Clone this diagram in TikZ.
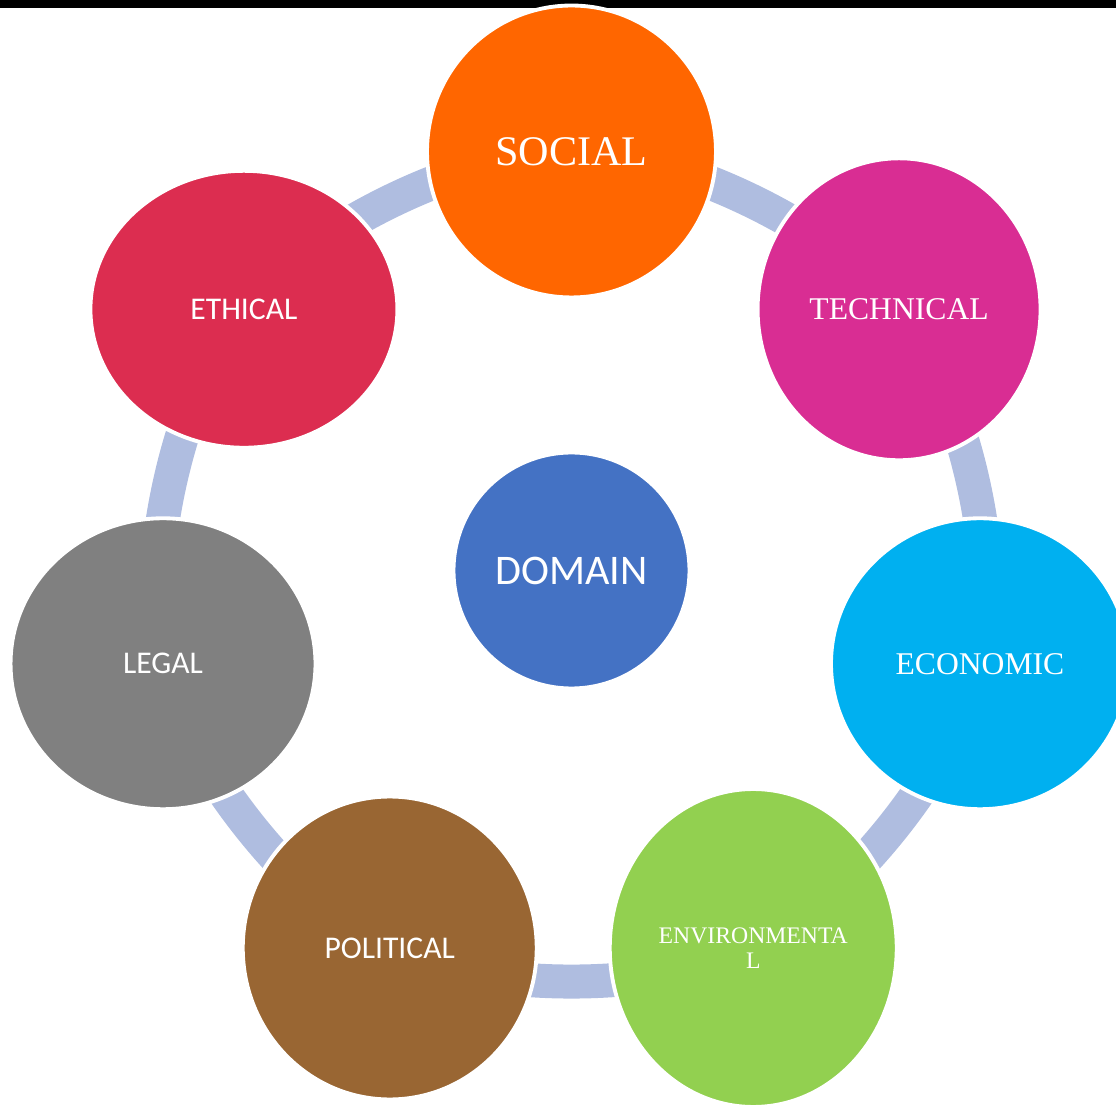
\documentclass[tikz,border=0pt]{standalone}
\usepackage{fontspec}
\setmainfont{Liberation Serif}
\newfontfamily\calibri{Carlito}
\usetikzlibrary{shapes.geometric, backgrounds}
\definecolor{socialorange}{RGB}{255,102,0}
\definecolor{techmagenta}{RGB}{217,45,147}
\definecolor{econcyan}{RGB}{0,176,240}
\definecolor{envgreen}{RGB}{146,208,80}
\definecolor{polbrown}{RGB}{153,102,51}
\definecolor{legalgray}{RGB}{128,128,128}
\definecolor{ethicalred}{RGB}{220,45,80}
\definecolor{domainblue}{RGB}{68,114,196}
\definecolor{linkblue}{RGB}{175,189,224}
\tikzset{
    petal/.style = {ellipse, draw = white, line width = 2.2pt, text = white, inner sep = 0pt, align = center},
    link/.style = {draw = linkblue, line width = 0.68cm}
}
\begin{document}
\begin{tikzpicture}[x = 0.02cm, y = 0.02cm]
                        \useasboundingbox (-571.5, -534.5) rectangle (544.5, 570.5);
                        \node [petal, circle, fill = domainblue, minimum size = 4.72cm, font = \calibri\fontsize{24}{28}\selectfont] (domain) at (0, 0) {DOMAIN};
                        \node [petal, fill = socialorange, minimum width = 5.78cm, minimum height = 5.84cm, font = \fontsize{24}{28}\selectfont] (social) at (90:419) {SOCIAL};
                        \node [petal, fill = techmagenta, minimum width = 5.66cm, minimum height = 6.04cm, font = \fontsize{18}{21}\selectfont] (technical) at (38.57:419) {TECHNICAL};
                        \node [petal, fill = econcyan, minimum width = 5.96cm, minimum height = 5.82cm, font = \fontsize{18}{21}\selectfont] (economic) at (-12.86:419) {ECONOMIC};
                        \node [petal, fill = envgreen, minimum width = 5.74cm, minimum height = 6.36cm, font = \fontsize{13.5}{14.2}\selectfont] (environmental) at (-64.29:419) {ENVIRONMENTA\\L};
                        \node [petal, fill = polbrown, minimum width = 5.88cm, minimum height = 6.06cm, font = \calibri\fontsize{18}{21}\selectfont] (political) at (-115.71:419) {POLITICAL};
                        \node [petal, fill = legalgray, minimum width = 6.10cm, minimum height = 5.82cm, font = \calibri\fontsize{18}{21}\selectfont] (legal) at (-167.14:419) {LEGAL};
                        \node [petal, fill = ethicalred, minimum width = 6.14cm, minimum height = 5.54cm, font = \calibri\fontsize{18}{21}\selectfont] (ethical) at (141.43:419) {ETHICAL};
                        \begin{pgfonlayer}{background}
                            \fill [black] (-571.5, 562.2) rectangle (544.5, 570.5);
                            \draw [link] (social.center) to [bend left = 26, looseness = 0.72] (technical.center);
                            \draw [link] (technical.center) to [bend left = 26, looseness = 0.72] (economic.center);
                            \draw [link] (economic.center) to [bend left = 26, looseness = 0.72] (environmental.center);
                            \draw [link] (environmental.center) to [bend left = 26, looseness = 0.72] (political.center);
                            \draw [link] (political.center) to [bend left = 26, looseness = 0.72] (legal.center);
                            \draw [link] (legal.center) to [bend left = 26, looseness = 0.72] (ethical.center);
                            \draw [link] (ethical.center) to [bend left = 26, looseness = 0.72] (social.center);
                        \end{pgfonlayer}
                    \end{tikzpicture}
\end{document}
